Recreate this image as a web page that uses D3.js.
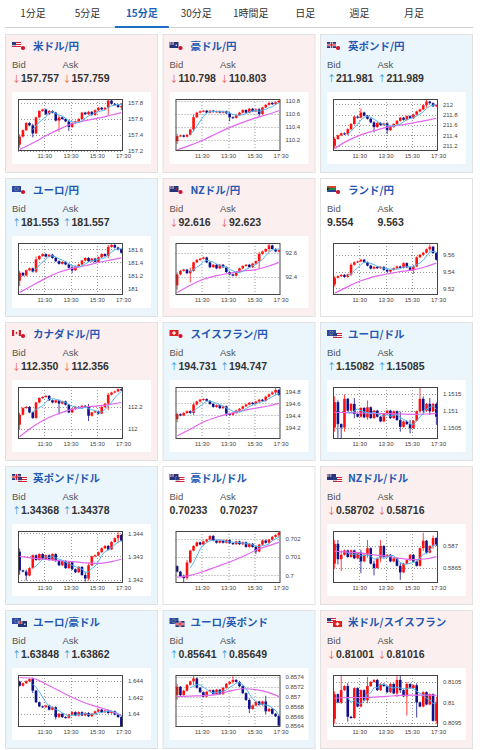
<!DOCTYPE html>
<html>
<head>
<meta charset="utf-8">
<script src="https://cdn.jsdelivr.net/npm/d3@7"></script>
<style>
body { margin: 0; background: #ffffff; }
svg { display: block; }
</style>
</head>
<body>
<script>
// ---- data ----
var tabs = ["1分足", "5分足", "15分足", "30分足", "1時間足", "日足", "週足", "月足"];
var activeTab = "15分足";

var pairNames = ["米ドル/円", "豪ドル/円", "英ポンド/円", "ユーロ/円", "NZドル/円", "ランド/円",
    "カナダドル/円", "スイスフラン/円", "ユーロ/ドル", "英ポンド/ドル", "豪ドル/ドル", "NZドル/ドル",
    "ユーロ/豪ドル", "ユーロ/英ポンド", "米ドル/スイスフラン"];
var pairCodes = [["USD","JPY"],["AUD","JPY"],["GBP","JPY"],["EUR","JPY"],["NZD","JPY"],["ZAR","JPY"],
    ["CAD","JPY"],["CHF","JPY"],["EUR","USD"],["GBP","USD"],["AUD","USD"],["NZD","USD"],
    ["EUR","AUD"],["EUR","GBP"],["USD","CHF"]];
var bids = ["157.757","110.798","211.981","181.553","92.616","9.554","112.350","194.731","1.15082",
    "1.34368","0.70233","0.58702","1.63848","0.85641","0.81001"];
var asks = ["157.759","110.803","211.989","181.557","92.623","9.563","112.356","194.747","1.15085",
    "1.34378","0.70237","0.58716","1.63862","0.85649","0.81016"];
var moves = ["down","down","up","up","down","flat","down","up","up","up","flat","down","up","up","down"];

// time axis, minutes after midnight
var timeRange = [570, 1050];
var timeTicks = [690, 810, 930, 1050];
var timeLabels = ["11:30", "13:30", "15:30", "17:30"];
var candleStep = 15;

var priceTicks = [
    [157.2, 157.4, 157.6, 157.8], [110.2, 110.4, 110.6, 110.8], [211.2, 211.4, 211.6, 211.8, 212],
    [181, 181.2, 181.4, 181.6], [92.4, 92.6], [9.52, 9.54, 9.56],
    [112, 112.2], [194.2, 194.4, 194.6, 194.8], [1.1505, 1.151, 1.1515],
    [1.342, 1.343, 1.344], [0.7, 0.701, 0.702], [0.5865, 0.587],
    [1.64, 1.642, 1.644], [0.8564, 0.8566, 0.8568, 0.857, 0.8572, 0.8574], [0.8095, 0.81, 0.8105]
];
var priceRange = [
    [157.2, 157.85], [110.03, 110.83], [211.1, 212.1],
    [180.9, 181.7], [92.25, 92.68], [9.512, 9.574],
    [111.91, 112.38], [194.01, 194.87], [1.15016, 1.1517],
    [1.34186, 1.34409], [0.69958, 0.70242], [0.58616, 0.58734],
    [1.6384, 1.6447], [0.85638, 0.85744], [0.8094, 0.81067]
];

// first value = open of the first candle, then 32 closes (15 min each)
var usdjpyClose = [157.28,157.38,157.46,157.55,157.52,157.42,157.62,157.70,157.72,157.66,157.70,157.68,157.58,157.62,157.60,157.57,157.50,157.55,157.57,157.60,157.68,157.66,157.69,157.65,157.71,157.74,157.72,157.74,157.83,157.79,157.78,157.75,157.76];
var audjpyClose = [110.18,110.26,110.27,110.25,110.28,110.36,110.55,110.62,110.64,110.65,110.62,110.65,110.63,110.64,110.62,110.64,110.61,110.55,110.54,110.58,110.62,110.66,110.62,110.68,110.64,110.67,110.60,110.70,110.74,110.77,110.75,110.78,110.80];
var gbpjpyClose = [211.20,211.33,211.40,211.44,211.42,211.52,211.62,211.76,211.74,211.84,211.78,211.72,211.65,211.56,211.64,211.60,211.63,211.50,211.56,211.62,211.68,211.74,211.70,211.77,211.73,211.80,211.86,211.90,211.98,212.05,212.02,211.96,211.98];
var eurjpyClose = [181.12,181.24,181.20,181.28,181.31,181.26,181.45,181.50,181.53,181.49,181.52,181.47,181.42,181.38,181.41,181.37,181.32,181.28,181.34,181.37,181.43,181.47,181.42,181.46,181.41,181.48,181.53,181.50,181.64,181.67,181.63,181.60,181.55];
var nzdjpyClose = [92.33,92.42,92.45,92.46,92.43,92.45,92.52,92.54,92.55,92.56,92.52,92.48,92.50,92.47,92.50,92.48,92.44,92.42,92.41,92.44,92.47,92.49,92.50,92.48,92.51,92.53,92.59,92.61,92.63,92.66,92.63,92.61,92.62];
var zarjpyClose = [9.5247,9.5325,9.5345,9.5360,9.5335,9.5365,9.5480,9.5510,9.5520,9.5541,9.5510,9.5470,9.5435,9.5455,9.5440,9.5455,9.5420,9.5400,9.5420,9.5440,9.5460,9.5445,9.5500,9.5450,9.5420,9.5460,9.5570,9.5600,9.5625,9.5665,9.5695,9.5620,9.5540];
var cadjpyClose = [112.04,112.13,112.19,112.20,112.15,112.10,112.24,112.28,112.29,112.30,112.26,112.24,112.26,112.23,112.25,112.22,112.15,112.18,112.20,112.19,112.21,112.20,112.12,112.15,112.16,112.14,112.20,112.23,112.31,112.33,112.34,112.36,112.35];
var chfjpyClose = [194.34,194.42,194.40,194.44,194.47,194.44,194.58,194.63,194.66,194.67,194.64,194.59,194.54,194.57,194.52,194.55,194.43,194.41,194.44,194.48,194.51,194.55,194.58,194.61,194.59,194.63,194.66,194.64,194.71,194.75,194.78,194.82,194.74];
var eurusdClose = [1.15050,1.15125,1.15060,1.15050,1.15135,1.15100,1.15120,1.15090,1.15082,1.15108,1.15080,1.15110,1.15078,1.15100,1.15082,1.15068,1.15090,1.15100,1.15078,1.15098,1.15072,1.15052,1.15068,1.15060,1.15048,1.15070,1.15098,1.15135,1.15100,1.15120,1.15098,1.15120,1.15082];
var gbpusdClose = [1.34320,1.34240,1.34235,1.34218,1.34250,1.34305,1.34285,1.34310,1.34288,1.34305,1.34285,1.34310,1.34280,1.34262,1.34280,1.34250,1.34275,1.34245,1.34232,1.34255,1.34220,1.34205,1.34262,1.34300,1.34305,1.34318,1.34335,1.34345,1.34330,1.34362,1.34378,1.34392,1.34368];
var audusdClose = [0.70050,0.70020,0.69995,0.69985,0.70070,0.70135,0.70160,0.70180,0.70168,0.70185,0.70195,0.70215,0.70190,0.70178,0.70190,0.70178,0.70192,0.70176,0.70170,0.70185,0.70170,0.70180,0.70155,0.70172,0.70155,0.70130,0.70168,0.70190,0.70178,0.70195,0.70210,0.70220,0.70233];
var nzdusdClose = [0.58660,0.58705,0.58670,0.58680,0.58690,0.58675,0.58690,0.58672,0.58685,0.58665,0.58680,0.58695,0.58660,0.58650,0.58672,0.58700,0.58675,0.58680,0.58665,0.58672,0.58655,0.58640,0.58660,0.58668,0.58680,0.58665,0.58655,0.58695,0.58712,0.58685,0.58700,0.58718,0.58702];
var euraudClose = [1.64390,1.64340,1.64370,1.64395,1.64420,1.64280,1.64140,1.64090,1.64080,1.64100,1.64050,1.64080,1.63960,1.64000,1.63960,1.63950,1.63990,1.64020,1.63980,1.64020,1.63980,1.64010,1.63970,1.64000,1.64030,1.64050,1.64020,1.64040,1.64010,1.64030,1.63990,1.63960,1.63848];
var eurgbpClose = [0.85703,0.85720,0.85703,0.85712,0.85724,0.85731,0.85737,0.85718,0.85709,0.85700,0.85710,0.85713,0.85705,0.85714,0.85705,0.85718,0.85726,0.85730,0.85734,0.85730,0.85721,0.85707,0.85693,0.85675,0.85682,0.85690,0.85683,0.85690,0.85670,0.85675,0.85665,0.85660,0.85641];
var usdchfClose = [0.80960,0.81020,0.81000,0.81030,0.81040,0.80965,0.80962,0.81035,0.80990,0.81030,0.81005,0.81040,0.81050,0.81055,0.81030,0.81045,0.81040,0.81025,0.81045,0.81022,0.81055,0.81030,0.81015,0.81045,0.81035,0.81042,0.81000,0.80990,0.81025,0.80995,0.81020,0.80955,0.81001];

// visible long wicks: [candle index, high, low]
var usdjpyWick = [[0,157.40,157.25],[4,157.53,157.38],[12,157.64,157.45],[15,157.58,157.46],[27,157.85,157.66],[31,157.79,157.72]];
var audjpyWick = [[0,110.28,110.15],[5,110.58,110.34],[16,110.62,110.50],[25,110.68,110.57]];
var gbpjpyWick = [[0,211.35,211.16],[8,211.90,211.74],[12,211.66,211.47],[16,211.64,211.44],[28,212.08,211.95]];
var eurjpyWick = [[0,181.26,181.05],[5,181.48,181.25],[16,181.34,181.25],[27,181.66,181.48]];
var nzdjpyWick = [[0,92.43,92.30],[4,92.47,92.36],[25,92.60,92.47],[28,92.68,92.61]];
var zarjpyWick = [[0,9.5335,9.5230],[5,9.5490,9.5355],[24,9.5470,9.5380],[29,9.5715,9.5650]];
var cadjpyWick = [[0,112.14,112.00],[12,112.26,112.14],[21,112.22,112.08],[27,112.32,112.18]];
var chfjpyWick = [[0,194.43,194.30],[5,194.60,194.42],[15,194.54,194.40],[30,194.84,194.74]];
var eurusdWick = [[0,1.1514,1.1504],[1,1.15128,1.1502],[2,1.1506,1.1502],[3,1.15145,1.1504],[6,1.15135,1.1508],[10,1.15128,1.15075],[20,1.15095,1.1504],[23,1.1507,1.15035],[26,1.15165,1.15095],[27,1.1514,1.1509],[29,1.15135,1.1509],[31,1.15122,1.1506]];
var gbpusdWick = [[0,1.34330,1.34225],[2,1.34240,1.34200],[20,1.34230,1.34195],[21,1.34270,1.34200],[30,1.34400,1.34360]];
var audusdWick = [[2,0.70000,0.69965],[3,0.70080,0.69980],[24,0.70160,0.70120],[31,0.70240,0.70215]];
var nzdusdWick = [[0,0.58712,0.58650],[1,0.58712,0.58660],[2,0.58688,0.58645],[8,0.58690,0.58640],[10,0.58712,0.58675],[12,0.58665,0.58635],[14,0.58712,0.58665],[20,0.58660,0.58625],[27,0.58728,0.58690],[30,0.58722,0.58695]];
var euraudWick = [[4,1.64430,1.64260],[11,1.64060,1.63940],[31,1.63970,1.63840]];
var eurgbpWick = [[0,0.85724,0.85695],[5,0.85742,0.85725],[17,0.85740,0.85728],[22,0.85695,0.85668],[27,0.85700,0.85665],[31,0.85662,0.85638]];
var usdchfWick = [[0,0.81025,0.80950],[2,0.81070,0.80998],[4,0.81045,0.80955],[10,0.81060,0.81000],[19,0.81080,0.81015],[20,0.81075,0.81025],[22,0.81048,0.80970],[25,0.81045,0.80965],[31,0.81012,0.80950]];

// long moving average (magenta), read at these candle indexes
var longMaIdx = [0, 4, 8, 12, 16, 20, 24, 28, 31];
var usdjpyLong = [157.22,157.30,157.39,157.47,157.54,157.58,157.61,157.65,157.68];
var audjpyLong = [110.05,110.12,110.20,110.30,110.39,110.47,110.54,110.60,110.65];
var gbpjpyLong = [211.15,211.30,211.41,211.49,211.56,211.60,211.64,211.69,211.73];
var eurjpyLong = [180.94,181.05,181.16,181.25,181.31,181.35,181.40,181.44,181.47];
var nzdjpyLong = [92.27,92.33,92.38,92.41,92.43,92.45,92.46,92.49,92.52];
var zarjpyLong = [9.514,9.522,9.529,9.534,9.537,9.540,9.542,9.546,9.550];
var cadjpyLong = [111.93,112.02,112.09,112.14,112.18,112.20,112.21,112.225,112.24];
var chfjpyLong = [194.06,194.17,194.29,194.37,194.43,194.48,194.52,194.56,194.60];
var eurusdLong = [1.15095,1.15094,1.15093,1.15092,1.15091,1.15090,1.15089,1.15090,1.15092];
var gbpusdLong = [1.34300,1.34293,1.34287,1.34282,1.34278,1.34272,1.34270,1.34278,1.34288];
var audusdLong = [0.69990,0.70000,0.70021,0.70047,0.70073,0.70103,0.70137,0.70162,0.70180];
var nzdusdLong = [0.58688,0.58686,0.58684,0.58680,0.58677,0.58672,0.58669,0.58671,0.58676];
var euraudLong = [1.64440,1.64430,1.64360,1.64280,1.64200,1.64130,1.64080,1.64030,1.63980];
var eurgbpLong = [0.85700,0.85701,0.85702,0.85704,0.85711,0.85716,0.85714,0.85708,0.85700];
var usdchfLong = [0.81010,0.81012,0.81012,0.81013,0.81015,0.81017,0.81018,0.81018,0.81017];

var closeSeries = [usdjpyClose, audjpyClose, gbpjpyClose, eurjpyClose, nzdjpyClose, zarjpyClose, cadjpyClose,
    chfjpyClose, eurusdClose, gbpusdClose, audusdClose, nzdusdClose, euraudClose, eurgbpClose, usdchfClose];
var wickSeries = [usdjpyWick, audjpyWick, gbpjpyWick, eurjpyWick, nzdjpyWick, zarjpyWick, cadjpyWick,
    chfjpyWick, eurusdWick, gbpusdWick, audusdWick, nzdusdWick, euraudWick, eurgbpWick, usdchfWick];
var longSeries = [usdjpyLong, audjpyLong, gbpjpyLong, eurjpyLong, nzdjpyLong, zarjpyLong, cadjpyLong,
    chfjpyLong, eurusdLong, gbpusdLong, audusdLong, nzdusdLong, euraudLong, eurgbpLong, usdchfLong];

window.onload = function(){

    var w = 480, h = 750;
    var jp = "'Noto Sans CJK JP', sans-serif";
    var latin = "'Liberation Sans', Arial, sans-serif";

    var svg = d3.select("body")
        .append("svg")
        .attr("width", w)
        .attr("height", h);

    // tab row
    var tabX = d3.scalePoint().domain(tabs).range([33, 414]);

    svg.append("line")
        .attr("x1", 5).attr("x2", 473)
        .attr("y1", 27.5).attr("y2", 27.5)
        .style("stroke", "#d2d2d2");

    svg.append("rect")
        .attr("x", tabX(activeTab) - 27)
        .attr("y", 26)
        .attr("width", 54)
        .attr("height", 2)
        .style("fill", "#1e6fc3");

    svg.selectAll(".tab")
        .data(tabs)
        .enter()
        .append("text")
        .attr("class", "tab")
        .attr("x", function(d){ return tabX(d); })
        .attr("y", 17)
        .attr("text-anchor", "middle")
        .style("font-family", jp)
        .style("font-size", "10px")
        .style("font-weight", function(d){ return d == activeTab ? "bold" : "normal"; })
        .style("fill", function(d){ return d == activeTab ? "#1d62b5" : "#333"; })
        .text(function(d){ return d; });

    // small flag icons
    function drawFlag(g, code, x, y, fw, fh){
        var f = g.append("g").attr("transform", "translate(" + x + "," + y + ")");
        if (code == "USD"){
            f.append("rect").attr("width", fw).attr("height", fh).style("fill", "#fff");
            [0, 2, 4].forEach(function(s){
                f.append("rect").attr("y", s * fh / 6).attr("width", fw).attr("height", fh / 6).style("fill", "#d22030");
            });
            f.append("rect").attr("width", fw * 0.45).attr("height", fh * 0.55).style("fill", "#283c84");
        } else if (code == "GBP"){
            f.append("rect").attr("width", fw).attr("height", fh).style("fill", "#24337a");
            f.append("rect").attr("x", fw / 2 - 1.2).attr("width", 2.4).attr("height", fh).style("fill", "#fff");
            f.append("rect").attr("y", fh / 2 - 1.2).attr("width", fw).attr("height", 2.4).style("fill", "#fff");
            f.append("rect").attr("x", fw / 2 - 0.6).attr("width", 1.2).attr("height", fh).style("fill", "#d22030");
            f.append("rect").attr("y", fh / 2 - 0.6).attr("width", fw).attr("height", 1.2).style("fill", "#d22030");
        } else if (code == "AUD" || code == "NZD"){
            f.append("rect").attr("width", fw).attr("height", fh).style("fill", "#24337a");
            f.append("rect").attr("width", fw * 0.5).attr("height", fh * 0.5).style("fill", "#8a90b8");
            f.append("rect").attr("x", fw * 0.2).attr("width", 1).attr("height", fh * 0.5).style("fill", "#d22030");
            f.append("circle").attr("cx", fw * 0.75).attr("cy", fh * 0.55).attr("r", 0.8)
                .style("fill", code == "NZD" ? "#d22030" : "#fff");
        } else if (code == "EUR"){
            f.append("rect").attr("width", fw).attr("height", fh).style("fill", "#2a4aa8");
            f.append("circle").attr("cx", fw / 2).attr("cy", fh / 2).attr("r", fh * 0.3)
                .style("fill", "none").style("stroke", "#e8d040").style("stroke-width", 0.7)
                .style("stroke-dasharray", "0.8,0.8");
        } else if (code == "ZAR"){
            f.append("rect").attr("width", fw).attr("height", fh / 2).style("fill", "#d8402e");
            f.append("rect").attr("y", fh / 2).attr("width", fw).attr("height", fh / 2).style("fill", "#2a3e96");
            f.append("rect").attr("y", fh / 2 - 1).attr("width", fw).attr("height", 2).style("fill", "#1a8a50");
            f.append("path").attr("d", "M0,0 L" + (fw * 0.45) + "," + (fh / 2) + " L0," + fh + "Z").style("fill", "#1a8a50");
            f.append("path").attr("d", "M0,1.5 L" + (fw * 0.3) + "," + (fh / 2) + " L0," + (fh - 1.5) + "Z").style("fill", "#222");
        } else if (code == "CAD"){
            f.append("rect").attr("width", fw).attr("height", fh).style("fill", "#fff");
            f.append("rect").attr("width", fw * 0.25).attr("height", fh).style("fill", "#d22030");
            f.append("rect").attr("x", fw * 0.75).attr("width", fw * 0.25).attr("height", fh).style("fill", "#d22030");
            f.append("rect").attr("x", fw * 0.42).attr("y", fh * 0.3).attr("width", fw * 0.16).attr("height", fh * 0.4).style("fill", "#d22030");
        } else if (code == "CHF"){
            f.append("rect").attr("width", fw).attr("height", fh).style("fill", "#e02020");
            f.append("rect").attr("x", fw / 2 - 0.7).attr("y", fh * 0.2).attr("width", 1.4).attr("height", fh * 0.6).style("fill", "#fff");
            f.append("rect").attr("x", fw / 2 - fh * 0.3).attr("y", fh / 2 - 0.7).attr("width", fh * 0.6).attr("height", 1.4).style("fill", "#fff");
        } else if (code == "JPY"){
            f.append("circle").attr("cx", fw / 2).attr("cy", fh / 2).attr("r", 2.1).style("fill", "#d0102a");
        }
    }

    var colX = [5, 162.5, 320];
    var panelW = 152, panelH = 138, rowStep = 144, topY = 34;
    var tint = { up: "#eaf5fc", down: "#fcefef", flat: "#ffffff" };
    var arrowColor = { up: "#2f95d6", down: "#e0604f" };
    var arrowChar = { up: "↑", down: "↓" };

    // plot box inside each panel
    var pl = 13, pr = 118, pt = 65, pb = 117;

    pairNames.forEach(function(name, k){
        var px = colX[k % 3], py = topY + Math.floor(k / 3) * rowStep;
        var g = svg.append("g").attr("transform", "translate(" + px + "," + py + ")");

        g.append("rect")
            .attr("x", 0.5).attr("y", 0.5)
            .attr("width", panelW).attr("height", panelH)
            .style("fill", tint[moves[k]])
            .style("stroke", "#e1e1e1");

        // flags + title
        drawFlag(g, pairCodes[k][0], 7, 8, 9, 6);
        if (pairCodes[k][1] == "JPY") {
            drawFlag(g, "JPY", 15, 11, 6, 6);
        } else {
            drawFlag(g, pairCodes[k][1], 13, 11, 9, 6);
        }

        g.append("text")
            .attr("x", 28).attr("y", 15.5)
            .style("font-family", jp)
            .style("font-size", "10.5px")
            .style("font-weight", "bold")
            .style("fill", "#2458b2")
            .text(name);

        // bid / ask
        [["Bid", bids[k], 7], ["Ask", asks[k], 57.5]].forEach(function(q){
            g.append("text")
                .attr("x", q[2]).attr("y", 33.5)
                .style("font-family", latin)
                .style("font-size", "9.5px")
                .style("fill", "#555")
                .text(q[0]);
            var t = g.append("text")
                .attr("x", q[2]).attr("y", 47.5)
                .style("font-family", latin)
                .style("font-size", "10.5px");
            if (moves[k] != "flat") {
                t.append("tspan")
                    .style("fill", arrowColor[moves[k]])
                    .style("font-family", jp)
                    .style("font-size", "9px")
                    .text(arrowChar[moves[k]]);
            }
            t.append("tspan")
                .style("font-weight", "bold")
                .style("fill", "#333")
                .text(q[1]);
        });

        // chart card
        g.append("rect")
            .attr("x", 7).attr("y", 58)
            .attr("width", 139).attr("height", 72)
            .style("fill", "#fff");

        var x = d3.scaleLinear().domain(timeRange).range([pl, pr]);
        var y = d3.scaleLinear().domain(priceRange[k]).range([pb, pt]);

        // dotted grid
        g.selectAll(".vgrid")
            .data(timeTicks.slice(0, 3))
            .enter()
            .append("line")
            .attr("x1", function(d){ return Math.round(x(d)) + 0.5; })
            .attr("x2", function(d){ return Math.round(x(d)) + 0.5; })
            .attr("y1", pt).attr("y2", pb)
            .style("stroke", "#999")
            .style("stroke-dasharray", "1,2");

        g.selectAll(".hgrid")
            .data(priceTicks[k])
            .enter()
            .append("line")
            .attr("x1", pl).attr("x2", pr)
            .attr("y1", function(d){ return Math.round(y(d)) + 0.5; })
            .attr("y2", function(d){ return Math.round(y(d)) + 0.5; })
            .style("stroke", "#999")
            .style("stroke-dasharray", "1,2");

        // candles
        var closes = closeSeries[k];
        var candles = d3.range(closes.length - 1).map(function(i){
            var o = closes[i], c = closes[i + 1];
            var hi = Math.max(o, c), lo = Math.min(o, c);
            wickSeries[k].forEach(function(wk){
                if (wk[0] == i) { hi = Math.max(hi, wk[1]); lo = Math.min(lo, wk[2]); }
            });
            return { t: timeRange[0] + candleStep * i + candleStep / 2, o: o, c: c, hi: hi, lo: lo };
        });

        g.append("clipPath").attr("id", "clip" + k)
            .append("rect").attr("x", pl).attr("y", pt).attr("width", pr - pl).attr("height", pb - pt);

        var plot = g.append("g").attr("clip-path", "url(#clip" + k + ")");

        plot.selectAll(".wick")
            .data(candles)
            .enter()
            .append("line")
            .attr("x1", function(d){ return x(d.t); })
            .attr("x2", function(d){ return x(d.t); })
            .attr("y1", function(d){ return y(d.hi) - 0.8; })
            .attr("y2", function(d){ return y(d.lo) + 0.8; })
            .style("stroke", function(d){ return d.c >= d.o ? "#ff1010" : "#10108a"; })
            .style("stroke-width", 0.8);

        plot.selectAll(".body")
            .data(candles)
            .enter()
            .append("rect")
            .attr("x", function(d){ return x(d.t) - 1.3; })
            .attr("width", 2.6)
            .attr("y", function(d){ return y(Math.max(d.o, d.c)); })
            .attr("height", function(d){ return Math.max(1, Math.abs(y(d.o) - y(d.c))); })
            .style("fill", function(d){ return d.c >= d.o ? "#ff1010" : "#10108a"; });

        // long average
        var longLine = d3.line()
            .x(function(d, i){ return x(candles[longMaIdx[i]].t); })
            .y(function(d){ return y(d); })
            .curve(d3.curveMonotoneX);

        plot.append("path")
            .datum(longSeries[k])
            .attr("d", longLine)
            .style("fill", "none")
            .style("stroke", "#e266ee")
            .style("stroke-width", 1.2);

        // short average over 5 candles
        var shortMa = d3.range(4, candles.length).map(function(i){
            return { t: candles[i].t, v: d3.mean(candles.slice(i - 4, i + 1), function(d){ return d.c; }) };
        });

        plot.append("path")
            .datum(shortMa)
            .attr("d", d3.line()
                .x(function(d){ return x(d.t); })
                .y(function(d){ return y(d.v); }))
            .style("fill", "none")
            .style("stroke", "#55b6f0")
            .style("stroke-width", 1);

        // frame
        g.append("rect")
            .attr("x", pl + 0.5).attr("y", pt + 0.5)
            .attr("width", pr - pl - 1).attr("height", pb - pt - 1)
            .style("fill", "none")
            .style("stroke", "#444");

        // axes
        var yAxis = d3.axisRight(y)
            .tickValues(priceTicks[k])
            .tickSize(0)
            .tickPadding(5)
            .tickFormat(d3.format("~f"));

        var ya = g.append("g")
            .attr("transform", "translate(" + pr + ",0)")
            .call(yAxis);
        ya.select(".domain").remove();
        ya.selectAll("text")
            .style("font-family", latin)
            .style("font-size", "6px")
            .style("fill", "#444");

        var xAxis = d3.axisBottom(x)
            .tickValues(timeTicks)
            .tickSize(0)
            .tickPadding(3)
            .tickFormat(function(d, i){ return timeLabels[i]; });

        var xa = g.append("g")
            .attr("transform", "translate(0," + pb + ")")
            .call(xAxis);
        xa.select(".domain").remove();
        xa.selectAll("text")
            .style("font-family", latin)
            .style("font-size", "6px")
            .style("fill", "#444");
    });
};
</script>
</body>
</html>
